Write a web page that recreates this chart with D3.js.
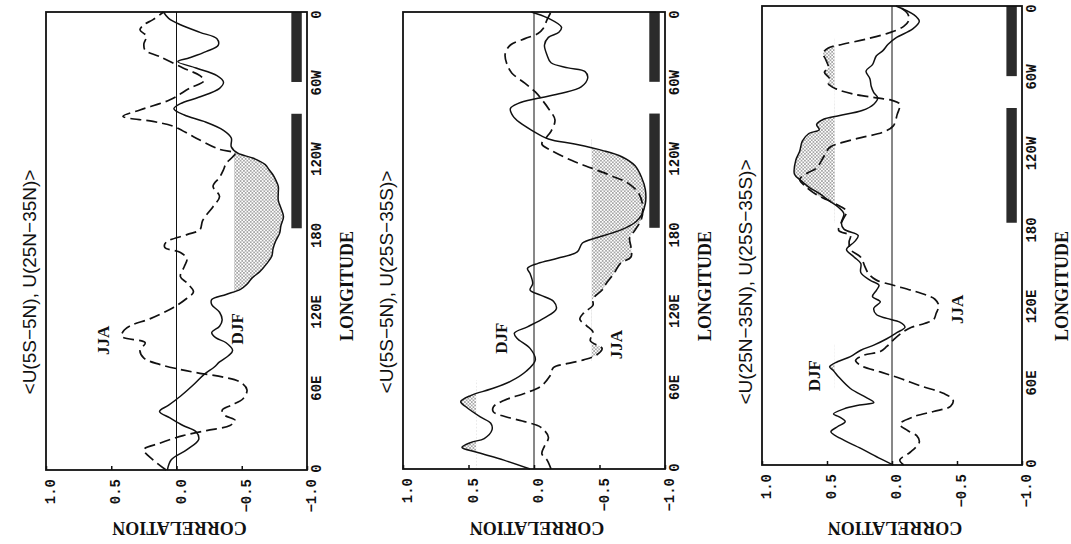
<!DOCTYPE html>
<html><head><meta charset="utf-8">
<script src="https://cdn.jsdelivr.net/npm/d3@7"></script>
<style>body{margin:0;background:#fff;}svg{display:block;}</style>
</head><body>
<svg id="chart" width="1071" height="544"></svg>
<script>
// ---------- data ----------
const titles = ["<U(5S\u22125N), U(25N\u221235N)>", "<U(5S\u22125N), U(25S\u221235S)>", "<U(25N\u221235N), U(25S\u221235S)>"];
const lonTicks = [0, 60, 120, 180, 240, 300, 360];
const lonTickLabels = ["0", "60E", "120E", "180", "120W", "60W", "0"];
const corrTicks = [-1, -0.5, 0, 0.5, 1];
const corrTickLabels = ["\u22121.0", "\u22120.5", "0.0", "0.5", "1.0"];
const seriesNames = ["DJF", "JJA"];
const threshold = 0.44;
const barRanges = [[190, 280], [305, 360]];
const barCorr = [-0.88, -0.96];

const djf1 = [[0,0.07],[8,0.04],[16,-0.08],[24,-0.17],[30,-0.15],[35,-0.05],[41,0.05],[46,0.13],[51,0.06],[58,-0.03],[67,-0.13],[75,-0.21],[81,-0.29],[85,-0.33],[90,-0.40],[94,-0.43],[100,-0.38],[104,-0.30],[108,-0.27],[113,-0.33],[118,-0.35],[124,-0.33],[130,-0.27],[134,-0.27],[138,-0.38],[142,-0.49],[146,-0.54],[151,-0.58],[156,-0.64],[162,-0.69],[168,-0.73],[174,-0.74],[180,-0.76],[186,-0.79],[192,-0.80],[199,-0.82],[206,-0.80],[212,-0.78],[218,-0.78],[223,-0.78],[228,-0.76],[232,-0.74],[236,-0.71],[240,-0.68],[245,-0.59],[249,-0.47],[254,-0.42],[261,-0.42],[267,-0.36],[274,-0.21],[279,-0.06],[284,0.02],[288,-0.03],[293,-0.17],[300,-0.33],[305,-0.36],[310,-0.31],[316,-0.15],[321,-0.01],[324,-0.10],[329,-0.23],[334,-0.32],[339,-0.31],[344,-0.18],[350,-0.03],[355,0.06],[360,0.10]];
const jja1 = [[0,0.08],[8,0.18],[16,0.25],[21,0.13],[27,-0.05],[31,-0.23],[35,-0.41],[39,-0.45],[43,-0.37],[47,-0.35],[51,-0.42],[56,-0.51],[63,-0.54],[69,-0.49],[73,-0.36],[76,-0.18],[79,-0.03],[83,0.13],[88,0.25],[94,0.28],[100,0.24],[105,0.42],[110,0.40],[114,0.34],[119,0.20],[128,0.02],[135,-0.08],[140,-0.13],[147,-0.08],[152,-0.03],[160,-0.06],[166,-0.08],[171,-0.03],[175,0.09],[179,0.08],[185,-0.08],[189,-0.18],[196,-0.20],[207,-0.28],[215,-0.33],[223,-0.28],[230,-0.33],[236,-0.36],[241,-0.38],[246,-0.43],[249,-0.45],[252,-0.33],[262,-0.13],[270,0.02],[274,0.18],[278,0.41],[283,0.28],[291,0.05],[300,-0.10],[306,-0.21],[310,-0.18],[316,-0.05],[325,0.13],[330,0.24],[335,0.25],[341,0.23],[346,0.28],[350,0.25],[354,0.18],[360,0.10]];

const djf2 = [[0,0.03],[7,0.23],[13,0.43],[17,0.55],[21,0.48],[24,0.38],[31,0.32],[36,0.33],[41,0.41],[49,0.52],[53,0.56],[58,0.48],[63,0.33],[69,0.18],[77,0.06],[86,-0.01],[95,0.03],[103,0.13],[107,0.15],[112,0.05],[119,-0.08],[126,-0.17],[132,-0.15],[137,-0.05],[141,0.03],[146,0.01],[154,0.03],[158,0.05],[162,-0.03],[166,-0.18],[171,-0.33],[178,-0.37],[182,-0.47],[186,-0.60],[190,-0.70],[195,-0.78],[200,-0.82],[209,-0.85],[220,-0.85],[230,-0.82],[239,-0.77],[246,-0.67],[251,-0.52],[256,-0.31],[260,-0.11],[267,0.02],[273,0.11],[278,0.16],[284,0.18],[288,0.12],[292,-0.03],[296,-0.21],[301,-0.36],[308,-0.41],[313,-0.39],[316,-0.26],[320,-0.13],[326,-0.10],[334,-0.08],[340,-0.11],[344,-0.19],[348,-0.21],[355,-0.11],[360,0.02]];
const jja2 = [[0,-0.13],[7,-0.10],[12,-0.06],[18,-0.08],[25,-0.11],[33,-0.05],[37,0.06],[41,0.21],[45,0.31],[49,0.31],[54,0.23],[60,0.06],[65,-0.05],[73,-0.12],[80,-0.15],[83,-0.25],[86,-0.38],[90,-0.48],[95,-0.52],[101,-0.43],[108,-0.45],[113,-0.40],[118,-0.35],[123,-0.38],[129,-0.45],[134,-0.45],[141,-0.52],[146,-0.55],[154,-0.61],[162,-0.66],[167,-0.74],[175,-0.74],[182,-0.73],[188,-0.77],[197,-0.82],[207,-0.83],[217,-0.80],[225,-0.72],[231,-0.59],[237,-0.44],[243,-0.29],[251,-0.13],[256,-0.06],[262,-0.10],[266,-0.13],[275,-0.16],[284,-0.11],[291,-0.06],[297,-0.01],[304,0.07],[312,0.17],[320,0.21],[327,0.22],[334,0.18],[339,0.07],[343,-0.03],[347,-0.07],[354,-0.10],[360,-0.13]];

const djf3 = [[0,-0.01],[5,0.09],[13,0.24],[21,0.40],[26,0.47],[30,0.42],[34,0.36],[38,0.41],[40,0.45],[44,0.37],[47,0.25],[49,0.14],[53,0.20],[60,0.32],[69,0.41],[74,0.45],[77,0.48],[81,0.42],[85,0.32],[90,0.24],[94,0.14],[99,0.04],[104,-0.04],[108,-0.10],[112,-0.06],[115,0.04],[118,0.12],[123,0.14],[128,0.09],[132,0.15],[137,0.12],[141,0.10],[145,0.17],[151,0.24],[158,0.24],[163,0.29],[169,0.35],[175,0.29],[180,0.26],[185,0.37],[190,0.39],[197,0.37],[202,0.41],[207,0.48],[213,0.56],[218,0.64],[223,0.70],[228,0.75],[239,0.74],[246,0.71],[254,0.69],[260,0.64],[263,0.56],[267,0.58],[271,0.53],[274,0.41],[278,0.23],[283,0.14],[288,0.11],[292,0.14],[297,0.16],[303,0.17],[309,0.20],[314,0.15],[321,0.12],[325,0.07],[330,0.03],[335,-0.03],[342,-0.16],[348,-0.21],[353,-0.17],[360,-0.03]];
const jja3 = [[0,-0.09],[4,-0.06],[10,-0.14],[18,-0.21],[23,-0.19],[27,-0.12],[32,-0.06],[38,-0.17],[42,-0.32],[46,-0.45],[51,-0.47],[56,-0.40],[62,-0.22],[68,-0.06],[73,0.09],[78,0.24],[82,0.28],[86,0.22],[89,0.09],[93,0.04],[98,-0.01],[104,-0.08],[108,-0.15],[111,-0.25],[114,-0.32],[119,-0.34],[125,-0.36],[130,-0.33],[133,-0.27],[137,-0.15],[141,-0.01],[145,0.12],[150,0.18],[156,0.21],[163,0.24],[169,0.32],[175,0.33],[180,0.32],[184,0.41],[192,0.38],[199,0.35],[203,0.40],[208,0.50],[212,0.58],[218,0.66],[224,0.71],[229,0.65],[233,0.58],[241,0.53],[249,0.48],[253,0.38],[257,0.23],[261,0.07],[266,-0.01],[275,-0.04],[283,-0.06],[286,0.00],[288,0.12],[291,0.30],[295,0.43],[299,0.49],[303,0.48],[308,0.52],[312,0.49],[318,0.51],[323,0.53],[327,0.49],[330,0.38],[334,0.20],[339,0.02],[344,-0.09],[349,-0.13],[354,-0.12],[360,-0.05]];

// shaded (significant) segments: series index, longitude range, sign
const shade1 = [[0, 135, 255, -1]];
const shade2 = [[0, 0, 70, 1], [0, 85, 260, -1], [1, 85, 260, -1]];
const shade3 = [[0, 60, 95, 1], [0, 190, 285, 1], [1, 190, 335, 1]];

// label anchors (lon, corr) for DJF and JJA in each panel
const labelPos1 = [[111, -0.47], [102, 0.56]];
const labelPos2 = [[103, 0.25], [98, -0.63]];
const labelPos3 = [[70, 0.60], [122, -0.50]];

// ---------- drawing ----------
const panelsData = [
  {title: titles[0], series: [djf1, jja1], shade: shade1, labels: labelPos1},
  {title: titles[1], series: [djf2, jja2], shade: shade2, labels: labelPos2},
  {title: titles[2], series: [djf3, jja3], shade: shade3, labels: labelPos3}
];
// frame geometry in the unrotated (portrait) coordinate system
const frames = [
  {x0: 74, x1: 532, y0: 46, y1: 307},
  {x0: 75, x1: 532, y0: 403, y1: 665},
  {x0: 79, x1: 538, y0: 762, y1: 1022}
];

const svg = d3.select("#chart");
const defs = svg.append("defs");
const pat = defs.append("pattern").attr("id", "dots")
  .attr("width", 3.4).attr("height", 3.4).attr("patternUnits", "userSpaceOnUse");
pat.append("rect").attr("width", 3.4).attr("height", 3.4).attr("fill", "#fff");
pat.append("circle").attr("cx", 0.85).attr("cy", 0.85).attr("r", 0.65).attr("fill", "#222");
pat.append("circle").attr("cx", 2.55).attr("cy", 2.55).attr("r", 0.65).attr("fill", "#222");

const root = svg.append("g").attr("transform", "translate(0,544) rotate(-90)");
const monoFont = "'Liberation Mono', 'DejaVu Sans Mono', monospace";
const serifFont = "'Liberation Serif', 'DejaVu Serif', serif";
const sansFont = "'Liberation Sans', Arial, sans-serif";
const curve = d3.curveCatmullRom.alpha(0.5);

panelsData.forEach((p, i) => {
  const f = frames[i];
  const xs = d3.scaleLinear().domain([0, 360]).range([f.x0, f.x1]);
  const ys = d3.scaleLinear().domain([-1, 1]).range([f.y1, f.y0]);
  const g = root.append("g");

  // shading (clip paths live in the same rotated user space as the shaded paths)
  p.shade.forEach((s, k) => {
    const [si, l0, l1, sign] = s;
    const id = `clip${i}_${k}`;
    const yA = sign < 0 ? ys(-threshold) : ys(1);
    const yB = sign < 0 ? ys(-1) : ys(threshold);
    defs.append("clipPath").attr("id", id).attr("clipPathUnits", "userSpaceOnUse")
      .append("rect")
      .attr("x", xs(l0)).attr("width", xs(l1) - xs(l0))
      .attr("y", yA).attr("height", yB - yA);
    const area = d3.area().x(d => xs(d[0])).y0(ys(sign * threshold)).y1(d => ys(d[1])).curve(curve);
    g.append("path").attr("clip-path", `url(#${id})`)
      .attr("d", area(p.series[si])).attr("fill", "url(#dots)");
  });

  // bars
  barRanges.forEach(b => {
    g.append("rect")
      .attr("x", xs(b[0])).attr("width", xs(b[1]) - xs(b[0]))
      .attr("y", ys(barCorr[0])).attr("height", ys(barCorr[1]) - ys(barCorr[0]))
      .attr("fill", "#2b2b2b");
  });

  // zero line
  g.append("line").attr("x1", f.x0).attr("x2", f.x1)
    .attr("y1", ys(0)).attr("y2", ys(0)).attr("stroke", "#111").attr("stroke-width", 1);

  // curves
  const line = d3.line().x(d => xs(d[0])).y(d => ys(d[1])).curve(curve);
  g.append("path").attr("d", line(p.series[0])).attr("fill", "none")
    .attr("stroke", "#111").attr("stroke-width", 1.5);
  g.append("path").attr("d", line(p.series[1])).attr("fill", "none")
    .attr("stroke", "#111").attr("stroke-width", 1.7).attr("stroke-dasharray", "11,5");

  // frame
  g.append("rect").attr("x", f.x0).attr("y", f.y0)
    .attr("width", f.x1 - f.x0).attr("height", f.y1 - f.y0)
    .attr("fill", "none").attr("stroke", "#111").attr("stroke-width", 1.8);

  // correlation axis
  const ax = d3.axisLeft(ys).tickValues(corrTicks)
    .tickFormat((d, j) => corrTickLabels[j])
    .tickSizeInner(-4).tickSizeOuter(0).tickPadding(9);
  const ag = g.append("g").attr("transform", `translate(${f.x0},0)`).call(ax);
  ag.select(".domain").remove();
  ag.selectAll("line").attr("stroke", "#111").attr("stroke-width", 1.5);
  ag.selectAll("text").attr("font-family", monoFont).attr("font-weight", "bold")
    .attr("font-size", 14).attr("dy", "0.62em").attr("fill", "#111");

  // longitude axis
  const bx = d3.axisBottom(xs).tickValues(lonTicks)
    .tickFormat((d, j) => lonTickLabels[j]).tickSize(0).tickPadding(4);
  const bg = g.append("g").attr("transform", `translate(0,${f.y1})`).call(bx);
  bg.select(".domain").remove();
  bg.selectAll("text").attr("font-family", monoFont).attr("font-weight", "bold")
    .attr("font-size", 14).attr("fill", "#111")
    .attr("dx", d => d === 360 ? -3 : (d === 0 ? 1 : 5));

  // titles and axis names
  g.append("text").attr("x", 262).attr("y", f.y0 - 10).attr("text-anchor", "middle")
    .attr("font-family", sansFont).attr("font-size", 19).attr("fill", "#111").text(p.title);
  g.append("text").attr("x", 258).attr("y", f.y1 + 46).attr("text-anchor", "middle")
    .attr("font-family", serifFont).attr("font-weight", "bold").attr("font-size", 18)
    .attr("fill", "#111").text("LONGITUDE");
  g.append("text").attr("transform", `translate(22,${(f.y0 + f.y1) / 2 + 3}) rotate(-90)`)
    .attr("text-anchor", "middle").attr("font-family", serifFont).attr("font-weight", "bold")
    .attr("font-size", 18).attr("fill", "#111").text("CORRELATION");

  // series labels
  p.labels.forEach((lp, k) => {
    g.append("text").attr("x", xs(lp[0])).attr("y", ys(lp[1]))
      .attr("text-anchor", "middle").attr("dominant-baseline", "central")
      .attr("font-family", serifFont).attr("font-weight", "bold").attr("font-size", 17)
      .attr("fill", "#111").text(seriesNames[k]);
  });
});
</script>
</body></html>
